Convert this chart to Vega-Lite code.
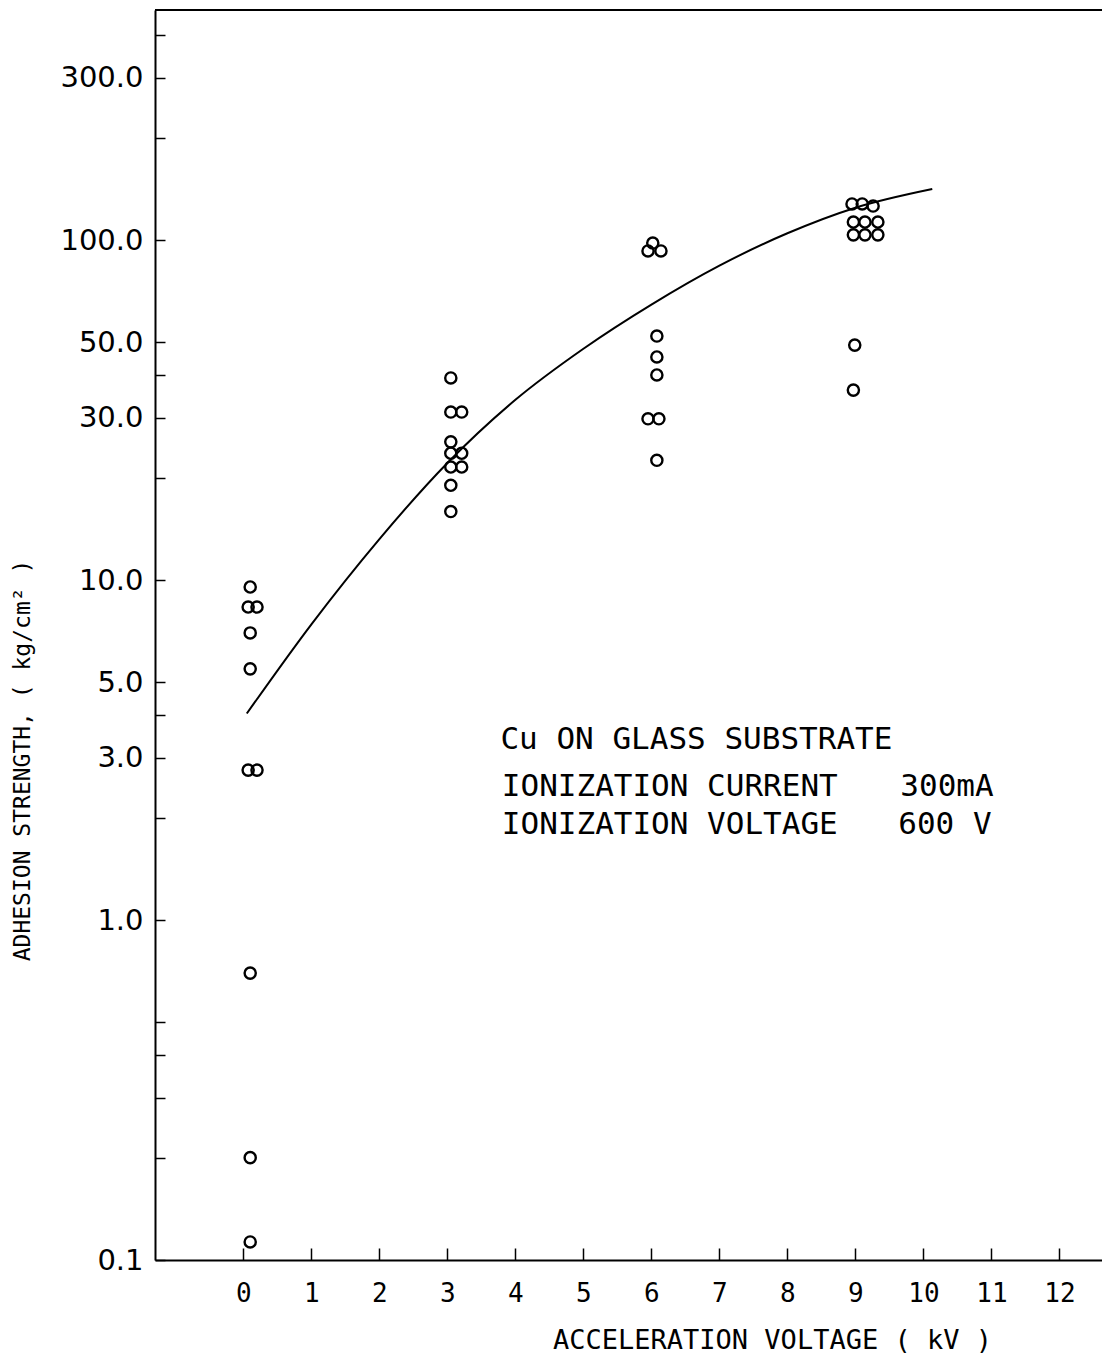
{
  "$schema": "https://vega.github.io/schema/vega-lite/v6.json",
  "width": 947,
  "height": 1250,
  "autosize": {"type": "none"},
  "padding": {"left": 155, "top": 10, "right": 0, "bottom": 108},
  "background": "white",
  "config": {"view": {"stroke": null}, "font": "DejaVu Sans"},
  "datasets": {
    "points": [
      {"kV": 0.1, "strength": 9.54},
      {"kV": 0.07, "strength": 8.33},
      {"kV": 0.2, "strength": 8.33},
      {"kV": 0.1, "strength": 6.99},
      {"kV": 0.1, "strength": 5.48},
      {"kV": 0.07, "strength": 2.76},
      {"kV": 0.2, "strength": 2.76},
      {"kV": 0.1, "strength": 0.698},
      {"kV": 0.1, "strength": 0.2},
      {"kV": 0.1, "strength": 0.113},
      {"kV": 3.05, "strength": 39.3},
      {"kV": 3.05, "strength": 31.2},
      {"kV": 3.21, "strength": 31.2},
      {"kV": 3.05, "strength": 25.5},
      {"kV": 3.05, "strength": 23.6},
      {"kV": 3.21, "strength": 23.6},
      {"kV": 3.05, "strength": 21.5},
      {"kV": 3.21, "strength": 21.5},
      {"kV": 3.05, "strength": 19.0},
      {"kV": 3.05, "strength": 15.9},
      {"kV": 6.02, "strength": 98},
      {"kV": 5.95, "strength": 92.9},
      {"kV": 6.14, "strength": 92.9},
      {"kV": 6.08, "strength": 52.2},
      {"kV": 6.08, "strength": 45.3},
      {"kV": 6.08, "strength": 40.1},
      {"kV": 5.95, "strength": 29.8},
      {"kV": 6.11, "strength": 29.8},
      {"kV": 6.08, "strength": 22.5},
      {"kV": 8.95, "strength": 127.7},
      {"kV": 9.1, "strength": 127.7},
      {"kV": 9.26, "strength": 125.9},
      {"kV": 8.97, "strength": 113},
      {"kV": 9.14, "strength": 113},
      {"kV": 9.33, "strength": 113},
      {"kV": 8.97, "strength": 103.6},
      {"kV": 9.14, "strength": 103.6},
      {"kV": 9.33, "strength": 103.6},
      {"kV": 8.99, "strength": 49.1},
      {"kV": 8.97, "strength": 36.2}
    ],
    "curve": [
      {"kV": 0.05, "strength": 4.05},
      {"kV": 1, "strength": 7.41},
      {"kV": 2, "strength": 13.2},
      {"kV": 3, "strength": 22.1},
      {"kV": 4, "strength": 33.9},
      {"kV": 5, "strength": 47.9},
      {"kV": 6, "strength": 64.6},
      {"kV": 7, "strength": 84.1},
      {"kV": 8, "strength": 104.7},
      {"kV": 9, "strength": 124.5},
      {"kV": 10.13, "strength": 141.3}
    ],
    "notes": [
      {"kV": 3.78, "strength": 3.38, "label": "Cu ON GLASS SUBSTRATE"},
      {"kV": 3.8, "strength": 2.46, "label": "IONIZATION CURRENT"},
      {"kV": 9.66, "strength": 2.46, "label": "300mA"},
      {"kV": 3.8, "strength": 1.9, "label": "IONIZATION VOLTAGE"},
      {"kV": 9.63, "strength": 1.9, "label": "600 V"}
    ]
  },
  "layer": [
    {
      "data": {"name": "curve"},
      "mark": {"type": "line", "interpolate": "monotone", "color": "black", "strokeWidth": 2},
      "encoding": {
        "x": {
          "field": "kV",
          "type": "quantitative",
          "scale": {"domain": [-1.3, 12.626], "nice": false, "zero": false},
          "axis": {
            "values": [0, 1, 2, 3, 4, 5, 6, 7, 8, 9, 10, 11, 12],
            "format": "d",
            "grid": false,
            "tickSize": -12,
            "tickWidth": 1.5,
            "tickColor": "black",
            "domainColor": "black",
            "domainWidth": 2,
            "labelFont": "DejaVu Sans Mono",
            "labelFontSize": 26,
            "labelColor": "black",
            "labelPadding": 32,
            "title": "ACCELERATION VOLTAGE ( kV )",
            "titleFont": "DejaVu Sans Mono",
            "titleFontSize": 27,
            "titleFontWeight": "normal",
            "titleColor": "black",
            "titleX": 617,
            "titleY": 80,
            "titleAlign": "center",
            "titleBaseline": "middle"
          }
        },
        "y": {
          "field": "strength",
          "type": "quantitative",
          "scale": {"type": "log", "domain": [0.1, 475], "nice": false},
          "axis": {
            "values": [0.1, 0.2, 0.3, 0.4, 0.5, 1, 2, 3, 4, 5, 10, 20, 30, 40, 50, 100, 200, 300, 400],
            "labelExpr": "indexof([0.1, 1, 3, 5, 10, 30, 50, 100, 300], datum.value) >= 0 ? format(datum.value, '.1f') : ''",
            "grid": false,
            "tickSize": -10,
            "tickWidth": 1.5,
            "tickColor": "black",
            "domainColor": "black",
            "domainWidth": 2,
            "labelFont": "DejaVu Sans",
            "labelFontSize": 29,
            "labelColor": "black",
            "labelPadding": 22,
            "labelBaseline": "middle",
            "title": "ADHESION STRENGTH, ( kg/cm² )",
            "titleFont": "DejaVu Sans Mono",
            "titleFontSize": 23,
            "titleFontWeight": "normal",
            "titleColor": "black",
            "titleAngle": 270,
            "titleX": -133,
            "titleY": 750,
            "titleAlign": "center",
            "titleBaseline": "middle"
          }
        }
      }
    },
    {
      "data": {"name": "points"},
      "mark": {"type": "point", "shape": "circle", "filled": false, "color": "black", "size": 125, "strokeWidth": 2.4, "opacity": 1},
      "encoding": {
        "x": {"field": "kV", "type": "quantitative"},
        "y": {"field": "strength", "type": "quantitative"}
      }
    },
    {
      "data": {"values": [{"top": 475}]},
      "mark": {"type": "rule", "color": "black", "strokeWidth": 2},
      "encoding": {
        "y": {"field": "top", "type": "quantitative"}
      }
    },
    {
      "data": {"name": "notes"},
      "mark": {"type": "text", "align": "left", "baseline": "middle", "font": "DejaVu Sans Mono", "fontSize": 31, "color": "black"},
      "encoding": {
        "x": {"field": "kV", "type": "quantitative"},
        "y": {"field": "strength", "type": "quantitative"},
        "text": {"field": "label"}
      }
    }
  ]
}
